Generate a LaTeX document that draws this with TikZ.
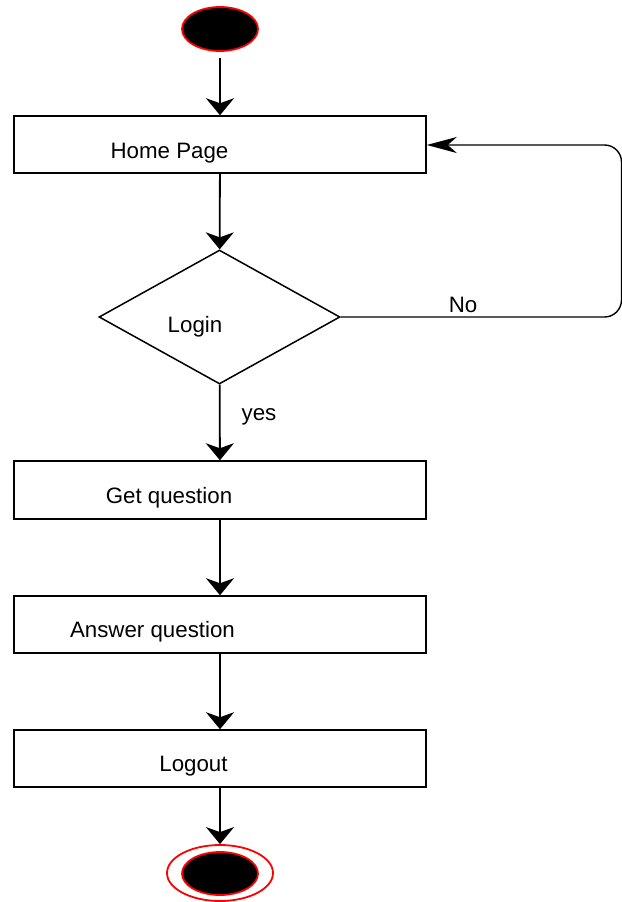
\documentclass[tikz,border=0pt]{standalone}
\usepackage{fontspec}
\setmainfont{Liberation Sans}
\usetikzlibrary{arrows.meta,shapes.geometric}

\tikzset{
  txt/.style={font=\fontsize{22.3}{25}\selectfont, inner sep=0pt, anchor=base},
  stepbox/.style={draw=black, line width=1.5pt, rectangle, minimum width=412pt, inner sep=0pt},
  decision/.style={draw=black, line width=1.5pt, diamond, minimum width=241pt, minimum height=134pt, inner sep=0pt},
  startdot/.style={ellipse, fill=black, draw=red, line width=1.8pt, minimum width=76pt, minimum height=44pt, inner sep=0pt},
  endring/.style={ellipse, draw=red, line width=1.8pt, minimum width=106pt, minimum height=56pt, inner sep=0pt},
  down/.style={-{Stealth[length=17pt, width=28pt, inset=5pt]}, line width=1.8pt},
  back/.style={-{Stealth[length=30pt, width=16pt, inset=9pt]}, line width=1.4pt, rounded corners=17pt},
}

\begin{document}
\begin{tikzpicture}[x=1pt, y=-1pt]
  \useasboundingbox (0,0) rectangle (621,902);

  % start and end markers
  \node[startdot] (start) at (220,29) {};
  \node[endring] (endring) at (220,873) {};
  \node[startdot, minimum height=43pt] (finish) at (220,873.5) {};

  % activity boxes
  \node[stepbox, minimum height=57pt] (home) at (220,144.5) {};
  \node[stepbox, minimum height=58pt] (getq) at (220,490) {};
  \node[stepbox, minimum height=57pt] (answer) at (220,624.5) {};
  \node[stepbox, minimum height=57pt] (logout) at (220,758.5) {};

  % login decision
  \node[decision] (login) at (219.5,317) {};

  % labels
  \node[txt] (home-t) at (169.5,158) {Home Page};
  \node[txt] (login-t) at (195,332) {Login};
  \node[txt] (getq-t) at (169,503) {Get question};
  \node[txt] (answer-t) at (152.5,637) {Answer question};
  \node[txt] (logout-t) at (193.5,771) {Logout};

  % flow
  \draw[down, shorten <=6pt] (start) -- (home);
  \draw[down] (home) -- (login);
  \draw[down] (login) -- (getq);
  \node[txt] (yes) at (259,420) {yes};
  \draw[down] (getq) -- (answer);
  \draw[down] (answer) -- (logout);
  \draw[down] (logout) -- (endring);

  % retry loop back to the home page
  \coordinate (loop-low) at (621.5,317);
  \coordinate (loop-high) at (621.5,145);
  \draw[back] (login.east) -- (loop-low) -- (loop-high) -- (home.east |- loop-high);
  \node[txt] (no) at (463,312) {No};
\end{tikzpicture}
\end{document}
